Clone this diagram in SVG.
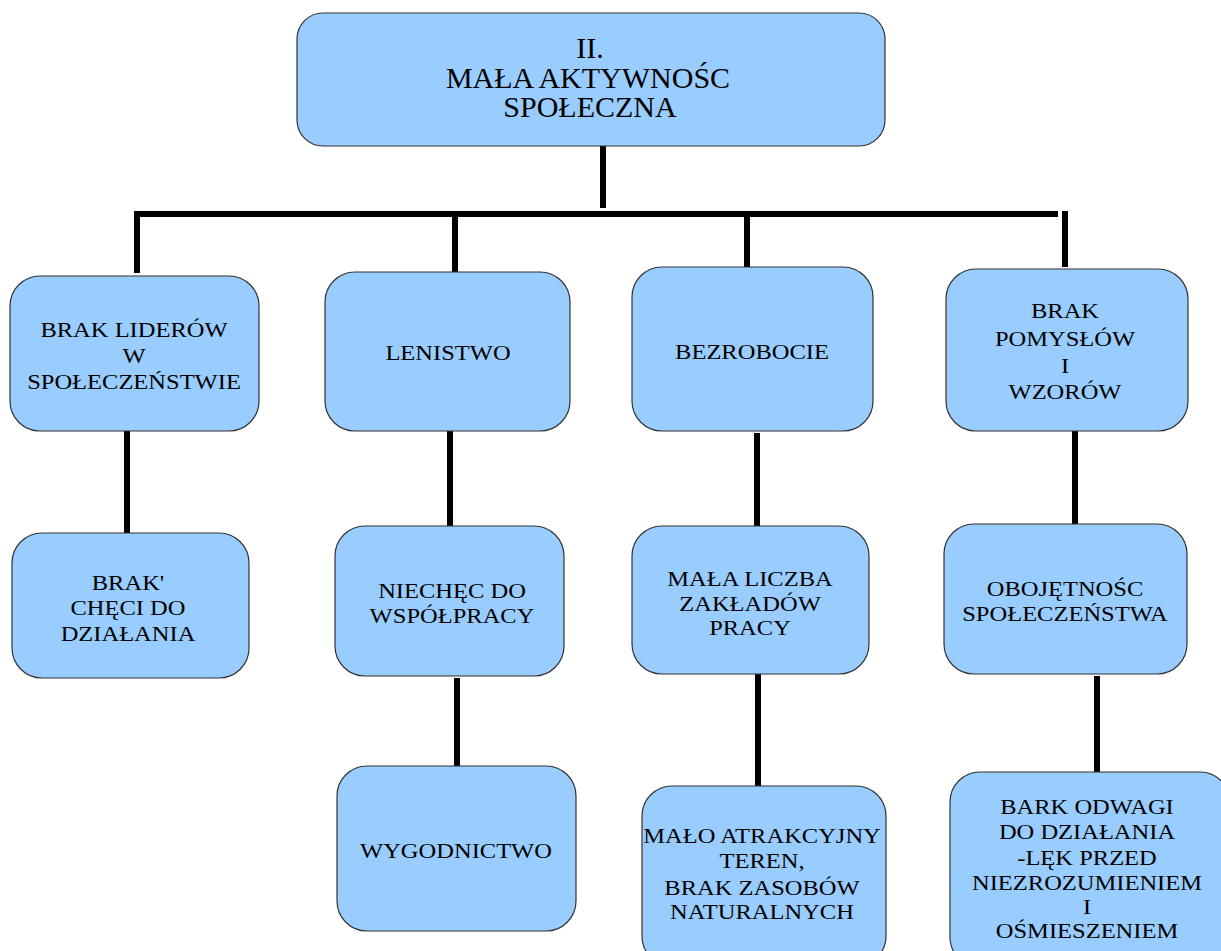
<svg xmlns="http://www.w3.org/2000/svg" width="1221" height="951" viewBox="0 0 1221 951">
<style>
.box{fill:#99ccff;stroke:#333;stroke-width:1.2}
text{font-family:'Liberation Serif','Times New Roman',serif;font-size:21.5px;fill:#000;text-anchor:middle}
text.big{font-size:30px}
.c{stroke:#000;stroke-width:6;fill:none}
</style>
<rect width="1221" height="951" fill="#fff"/>
<g id="connectors">
<line class="c" x1="603" y1="146" x2="603" y2="208"/>
<line class="c" x1="137" y1="214" x2="1058" y2="214"/>
<line class="c" x1="137" y1="211" x2="137" y2="273"/>
<line class="c" x1="455" y1="211" x2="455" y2="272"/>
<line class="c" x1="747" y1="211" x2="747" y2="267"/>
<line class="c" x1="1065" y1="211" x2="1065" y2="267"/>
<line class="c" x1="127" y1="431" x2="127" y2="533"/>
<line class="c" x1="450" y1="428" x2="450" y2="526"/>
<line class="c" x1="757" y1="433" x2="757" y2="526"/>
<line class="c" x1="1075" y1="431" x2="1075" y2="524"/>
<line class="c" x1="457" y1="678" x2="457" y2="766"/>
<line class="c" x1="758" y1="674" x2="758" y2="786"/>
<line class="c" x1="1097" y1="676" x2="1097" y2="772"/>
</g>
<g id="n0">
<rect class="box" x="297" y="13" width="588" height="133" rx="26"/>
<text class="big" x="590" y="58">II.</text>
<text class="big" x="588" y="88">MAŁA AKTYWNOŚC</text>
<text class="big" x="590" y="117">SPOŁECZNA</text>
</g>
<g id="n1">
<rect class="box" x="10" y="276" width="249" height="155" rx="30"/>
<g transform="translate(134 0) scale(1.14 1)">
<text x="0" y="337">BRAK LIDERÓW</text>
<text x="0" y="363">W</text>
<text x="0" y="389">SPOŁECZEŃSTWIE</text>
</g>
</g>
<g id="n2">
<rect class="box" x="325" y="272" width="245" height="159" rx="30"/>
<g transform="translate(448 0) scale(1.14 1)">
<text x="0" y="360">LENISTWO</text>
</g>
</g>
<g id="n3">
<rect class="box" x="632" y="267" width="241" height="164" rx="30"/>
<g transform="translate(752 0) scale(1.14 1)">
<text x="0" y="359">BEZROBOCIE</text>
</g>
</g>
<g id="n4">
<rect class="box" x="946" y="269" width="242" height="162" rx="30"/>
<g transform="translate(1065 0) scale(1.14 1)">
<text x="0" y="318">BRAK</text>
<text x="0" y="346">POMYSŁÓW</text>
<text x="0" y="373">I</text>
<text x="0" y="399">WZORÓW</text>
</g>
</g>
<g id="n5">
<rect class="box" x="12" y="533" width="237" height="145" rx="30"/>
<g transform="translate(128 0) scale(1.14 1)">
<text x="0" y="590">BRAK'</text>
<text x="0" y="615">CHĘCI DO</text>
<text x="0" y="641">DZIAŁANIA</text>
</g>
</g>
<g id="n6">
<rect class="box" x="335" y="526" width="229" height="150" rx="30"/>
<g transform="translate(452 0) scale(1.14 1)">
<text x="0" y="598">NIECHĘC DO</text>
<text x="0" y="623">WSPÓŁPRACY</text>
</g>
</g>
<g id="n7">
<rect class="box" x="632" y="526" width="237" height="148" rx="30"/>
<g transform="translate(750 0) scale(1.14 1)">
<text x="0" y="586">MAŁA LICZBA</text>
<text x="0" y="611">ZAKŁADÓW</text>
<text x="0" y="635">PRACY</text>
</g>
</g>
<g id="n8">
<rect class="box" x="944" y="524" width="243" height="150" rx="30"/>
<g transform="translate(1065 0) scale(1.14 1)">
<text x="0" y="596">OBOJĘTNOŚC</text>
<text x="0" y="621">SPOŁECZEŃSTWA</text>
</g>
</g>
<g id="n9">
<rect class="box" x="337" y="766" width="239" height="165" rx="30"/>
<g transform="translate(456 0) scale(1.14 1)">
<text x="0" y="858">WYGODNICTWO</text>
</g>
</g>
<g id="n10">
<rect class="box" x="642" y="786" width="244" height="180" rx="30"/>
<g transform="translate(762 0) scale(1.14 1)">
<text x="0" y="843">MAŁO ATRAKCYJNY</text>
<text x="0" y="868">TEREN,</text>
<text x="0" y="895">BRAK ZASOBÓW</text>
<text x="0" y="919">NATURALNYCH</text>
</g>
</g>
<g id="n11">
<rect class="box" x="950" y="772" width="280" height="195" rx="30"/>
<g transform="translate(1087 0) scale(1.14 1)">
<text x="0" y="814">BARK ODWAGI</text>
<text x="0" y="839">DO DZIAŁANIA</text>
<text x="0" y="865">-LĘK PRZED</text>
<text x="0" y="890">NIEZROZUMIENIEM</text>
<text x="0" y="914">I</text>
<text x="0" y="938">OŚMIESZENIEM</text>
</g>
</g>
</svg>
